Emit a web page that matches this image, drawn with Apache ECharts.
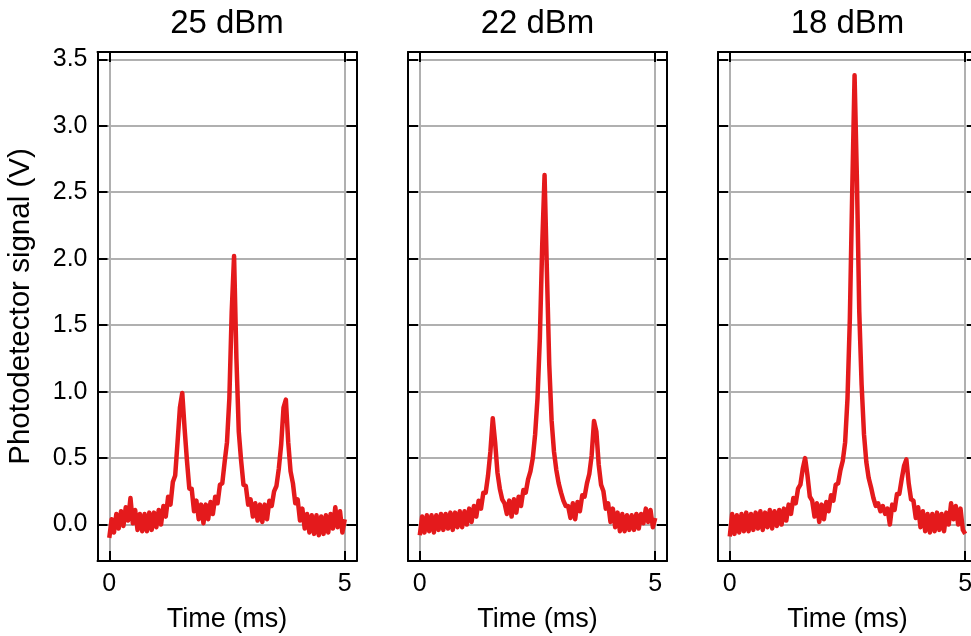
<!DOCTYPE html>
<html>
<head>
<meta charset="utf-8">
<title>Photodetector signal vs time</title>
<script src="https://cdn.jsdelivr.net/npm/echarts@6/dist/echarts.min.js"></script>
<style>
  html, body { margin: 0; padding: 0; background: #fff; }
  #chart { width: 971px; height: 636px; }
</style>
</head>
<body>
<div id="chart"></div>
<script>
// sample times (ms), one every 0.05 ms from 0 to 5
const time = Array.from({ length: 101 }, (_, i) => +(i * 0.05).toFixed(2));

const titles = ['25 dBm', '22 dBm', '18 dBm'];
const yTicks = [0, 0.5, 1, 1.5, 2, 2.5, 3, 3.5];
const xTicks = [0, 5];

// photodetector signal (V) (noise included)
const signal25 = [
  -0.10, 0.04, -0.06, 0.08, -0.03, 0.10, -0.01, 0.13, 0.03, 0.20,
  0.01, 0.11, -0.04, 0.08, -0.05, 0.08, -0.05, 0.09, -0.04, 0.09,
  -0.02, 0.11, 0.00, 0.14, 0.06, 0.21, 0.15, 0.32, 0.37, 0.62,
  0.88, 0.99, 0.72, 0.48, 0.27, 0.27, 0.10, 0.18, 0.04, 0.15,
  0.01, 0.15, 0.04, 0.17, 0.08, 0.21, 0.16, 0.30, 0.31, 0.47,
  0.62, 0.95, 1.60, 2.02, 1.25, 0.70, 0.48, 0.30, 0.29, 0.15,
  0.19, 0.06, 0.16, 0.03, 0.15, 0.02, 0.15, 0.04, 0.18, 0.14,
  0.25, 0.29, 0.42, 0.60, 0.88, 0.94, 0.62, 0.40, 0.31, 0.16,
  0.19, 0.03, 0.12, -0.03, 0.08, -0.06, 0.07, -0.07, 0.07, -0.08,
  0.06, -0.07, 0.07, -0.06, 0.08, -0.03, 0.13, -0.02, 0.10, -0.06,
  0.04
];
const signal22 = [
  -0.08, 0.06, -0.06, 0.07, -0.05, 0.07, -0.06, 0.07, -0.04, 0.08,
  -0.04, 0.08, -0.03, 0.09, -0.04, 0.09, -0.02, 0.10, -0.02, 0.10,
  0.00, 0.12, 0.02, 0.14, 0.06, 0.18, 0.12, 0.24, 0.24, 0.37,
  0.55, 0.80, 0.62, 0.39, 0.27, 0.19, 0.16, 0.08, 0.18, 0.06,
  0.19, 0.09, 0.21, 0.14, 0.26, 0.24, 0.34, 0.40, 0.50, 0.68,
  0.95, 1.40, 2.10, 2.63, 1.90, 1.20, 0.78, 0.55, 0.41, 0.31,
  0.24, 0.18, 0.14, 0.14, 0.05, 0.16, 0.04, 0.17, 0.10, 0.22,
  0.21, 0.31, 0.38, 0.52, 0.78, 0.70, 0.45, 0.30, 0.25, 0.12,
  0.16, 0.02, 0.12, -0.02, 0.09, -0.05, 0.08, -0.05, 0.07, -0.04,
  0.07, -0.04, 0.08, -0.03, 0.08, 0.01, 0.12, 0.02, 0.11, -0.02,
  0.05
];
const signal18 = [
  -0.09, 0.08, -0.07, 0.07, -0.06, 0.08, -0.05, 0.09, -0.05, 0.08,
  -0.04, 0.09, -0.03, 0.10, -0.04, 0.09, -0.02, 0.11, -0.03, 0.10,
  -0.01, 0.11, 0.00, 0.12, 0.03, 0.15, 0.08, 0.20, 0.16, 0.27,
  0.30, 0.42, 0.50, 0.37, 0.21, 0.18, 0.06, 0.16, 0.02, 0.15,
  0.04, 0.17, 0.10, 0.22, 0.18, 0.30, 0.31, 0.41, 0.48, 0.62,
  0.95, 1.55, 2.50, 3.38, 2.60, 1.60, 1.05, 0.68, 0.47, 0.35,
  0.28, 0.20, 0.14, 0.16, 0.10, 0.14, 0.08, 0.12, 0.00, 0.15,
  0.11, 0.23, 0.23, 0.34, 0.44, 0.49, 0.31, 0.19, 0.18, 0.05,
  0.13, -0.02, 0.10, -0.05, 0.08, -0.06, 0.08, -0.05, 0.09, -0.04,
  0.08, -0.05, 0.09, 0.00, 0.16, 0.04, 0.14, 0.00, 0.12, -0.04,
  -0.07
];
const signals = [signal25, signal22, signal18];

const font = 'Liberation Sans, Arial, Helvetica, sans-serif';
const panelLeft = [97.5, 408, 718];
const black = { color: '#000', width: 2 };

const chart = echarts.init(document.getElementById('chart'), null, { renderer: 'canvas' });

const grids = [], xAxes = [], yAxes = [], series = [];
panelLeft.forEach((left, i) => {
  grids.push({ left: left, top: 52, width: 259, height: 509, outerBoundsMode: 'none', containLabel: false });
  // bottom axis
  xAxes.push({
    gridIndex: i, type: 'value', min: -0.25, max: 5.25, position: 'bottom',
    axisLine: { onZero: false, lineStyle: black },
    axisTick: { inside: true, length: 10, customValues: xTicks, lineStyle: black },
    axisLabel: { customValues: xTicks, color: '#000', fontSize: 25, fontFamily: font, margin: 11 },
    splitLine: { show: true, lineStyle: { color: '#b0b0b0', width: 2 } },
    name: 'Time (ms)', nameLocation: 'middle', nameGap: 45,
    nameTextStyle: { color: '#000', fontSize: 27, fontFamily: font }
  });
  // top axis (mirror ticks + panel title)
  xAxes.push({
    gridIndex: i, type: 'value', min: -0.25, max: 5.25, position: 'top',
    axisLine: { onZero: false, lineStyle: black },
    axisTick: { inside: true, length: 10, customValues: xTicks, lineStyle: black },
    axisLabel: { show: false },
    splitLine: { show: false },
    name: titles[i], nameLocation: 'middle', nameGap: 12,
    nameTextStyle: { color: '#000', fontSize: 33, fontFamily: font }
  });
  // left axis
  yAxes.push({
    gridIndex: i, type: 'value', min: -0.274, max: 3.555, position: 'left',
    axisLine: { onZero: false, lineStyle: black },
    axisTick: { inside: true, length: 10, customValues: yTicks, lineStyle: black },
    axisLabel: {
      show: i === 0, customValues: yTicks, color: '#000', fontSize: 25, fontFamily: font, margin: 10,
      formatter: v => v.toFixed(1)
    },
    splitLine: { show: true, lineStyle: { color: '#b0b0b0', width: 2 } },
    name: i === 0 ? 'Photodetector signal (V)' : '', nameLocation: 'middle', nameGap: 62,
    nameTextStyle: { color: '#000', fontSize: 29.5, fontFamily: font }
  });
  // right axis (mirror ticks)
  yAxes.push({
    gridIndex: i, type: 'value', min: -0.274, max: 3.555, position: 'right',
    axisLine: { onZero: false, lineStyle: black },
    axisTick: { inside: true, length: 10, customValues: yTicks, lineStyle: black },
    axisLabel: { show: false },
    splitLine: { show: false }
  });
  series.push({
    type: 'line',
    xAxisIndex: 2 * i, yAxisIndex: 2 * i,
    data: time.map((t, k) => [t, signals[i][k]]),
    showSymbol: false,
    lineStyle: { color: '#e41a1c', width: 4.5, join: 'round' },
    itemStyle: { color: '#e41a1c' },
    z: 3
  });
});

chart.setOption({
  animation: false,
  backgroundColor: '#fff',
  grid: grids,
  xAxis: xAxes,
  yAxis: yAxes,
  series: series
});
</script>
</body>
</html>
